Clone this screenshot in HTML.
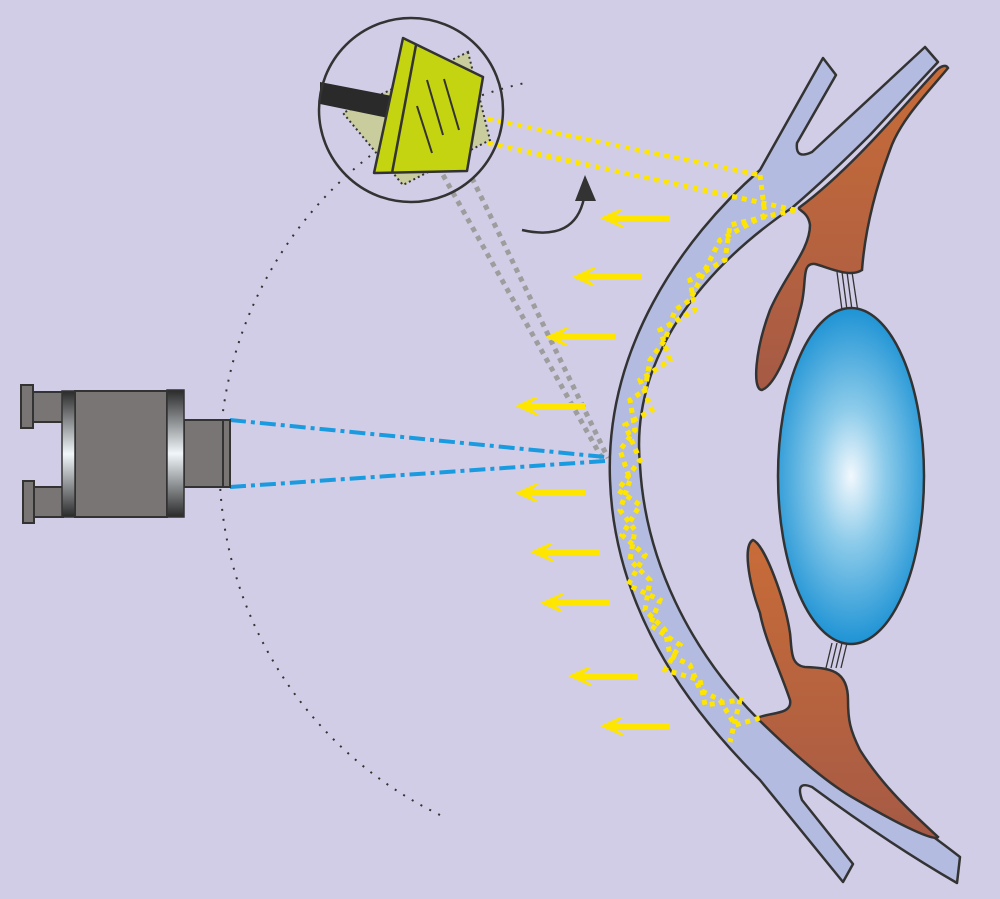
<!DOCTYPE html>
<html><head><meta charset="utf-8"><style>html,body{margin:0;padding:0;background:#d2cde6;}svg{display:block}</style></head><body>
<svg width="1000" height="899" viewBox="0 0 1000 899" xmlns="http://www.w3.org/2000/svg">
<defs>
<radialGradient id="lens" cx="851" cy="476" r="170" gradientUnits="userSpaceOnUse" gradientTransform="translate(851 476) scale(0.5 1) translate(-851 -476)">
<stop offset="0" stop-color="#f2f8fd"/><stop offset="0.4" stop-color="#8ccbea"/><stop offset="1" stop-color="#1c92d4"/></radialGradient>
<linearGradient id="brown" x1="0" y1="0" x2="0" y2="1"><stop offset="0" stop-color="#c86c38"/><stop offset="1" stop-color="#a65a45"/></linearGradient>
<linearGradient id="ring" x1="0" y1="0" x2="0" y2="1"><stop offset="0" stop-color="#2a2a2a"/><stop offset="0.5" stop-color="#f0f6fa"/><stop offset="1" stop-color="#2a2a2a"/></linearGradient>
</defs>
<rect width="1000" height="899" fill="#d2cde6"/>
<!-- dotted arc -->
<path d="M440,815 A390,390 0 0 1 525,83" fill="none" stroke="#333" stroke-width="2" stroke-dasharray="2 8"/>
<!-- gray dotted -->
<line x1="443" y1="175" x2="603" y2="460" stroke="#9d9d9d" stroke-width="5" stroke-dasharray="5 5"/>
<line x1="472" y1="178" x2="608" y2="458" stroke="#9d9d9d" stroke-width="5" stroke-dasharray="5 5"/>
<!-- cornea/sclera -->
<path d="M823,58 L836,75 L797,143 Q795,160 812,152 L925,47 L938,62 L870,135 Q830,175 793,207 C700,270 630,360 640,465 C645,560 690,650 757,718 C820,760 900,810 960,857 L957,883 C900,850 850,815 812,787 Q795,780 802,800 L853,864 L843,882 L760,780 C700,720 615,620 610,480 C605,350 680,240 760,170 Z" fill="#b3bbe0" stroke="#333" stroke-width="2.5" stroke-linejoin="round"/>
<!-- zonules -->
<g stroke="#333" stroke-width="1.3"><line x1="837" y1="272" x2="842" y2="310"/><line x1="842" y1="272" x2="847" y2="310"/><line x1="847" y1="272" x2="852" y2="310"/><line x1="852" y1="272" x2="858" y2="312"/>
<line x1="832" y1="643" x2="826" y2="668"/><line x1="837" y1="643" x2="831" y2="668"/><line x1="842" y1="643" x2="836" y2="668"/><line x1="847" y1="643" x2="841" y2="668"/></g>
<!-- lens -->
<ellipse cx="851" cy="476" rx="73" ry="168" fill="url(#lens)" stroke="#333" stroke-width="2.5"/>
<!-- upper iris -->
<path d="M948,68 C930,90 900,120 890,150 C875,190 865,230 862,270 C850,278 830,268 815,264 C800,262 808,285 800,310 C790,350 775,385 762,390 C752,390 755,350 770,310 C785,275 810,250 810,225 C808,210 795,210 800,207 C850,170 900,110 935,72 C940,66 946,64 948,68 Z" fill="url(#brown)" stroke="#333" stroke-width="2.5"/>
<!-- lower iris -->
<path d="M753,540 C765,545 785,600 790,633 C792,650 790,665 805,667 C830,668 848,670 848,700 C848,720 850,730 860,750 C885,790 920,820 938,837 C935,842 900,825 857,800 C830,785 800,760 757,718 C770,712 793,715 790,700 C780,670 765,640 760,613 C748,580 743,545 753,540 Z" fill="url(#brown)" stroke="#333" stroke-width="2.5"/>
<!-- yellow beam -->
<g fill="none" stroke="#ffe600" stroke-width="5" stroke-dasharray="5 5">
<line x1="478" y1="117" x2="760" y2="175"/>
<line x1="478" y1="141" x2="795" y2="210"/>
<polyline points="760,175 765,215 720,240 705,270 690,300 675,310 665,340 650,360 645,390 630,400 635,430 620,450 630,480 620,510 635,530 630,560 650,580 645,610 665,630 670,655 690,665 700,690 720,700 735,725 760,718"/>
<polyline points="795,210 730,225 725,260 690,280 695,310 660,330 670,360 640,380 652,410 625,425 640,460 618,490 640,505 622,535 645,555 628,585 660,600 650,625 680,645 665,670 700,680 705,705 740,700 730,742"/>
</g>
<!-- blue lines -->
<g stroke="#1a9be0" stroke-width="4" stroke-dasharray="16 5 4 5">
<line x1="230" y1="420" x2="605" y2="457"/><line x1="230" y1="487" x2="605" y2="461"/></g>
<!-- camera -->
<g stroke="#333" stroke-width="2">
<rect x="21" y="385" width="12" height="43" fill="#7a7575"/>
<rect x="33" y="392" width="30" height="30" fill="#7a7575"/>
<rect x="23" y="481" width="11" height="42" fill="#7a7575"/>
<rect x="34" y="487" width="29" height="30" fill="#7a7575"/>
<rect x="184" y="420" width="39" height="67" fill="#7a7575"/>
<rect x="223" y="420" width="7" height="67" fill="#7a7575"/>
<rect x="75" y="391" width="92" height="126" fill="#7a7575"/>
</g>
<rect x="62" y="391" width="13" height="126" fill="url(#ring)" stroke="#333" stroke-width="1.5"/>
<rect x="167" y="390" width="17" height="127" fill="url(#ring)" stroke="#333" stroke-width="1.5"/>
<!-- magnifier -->
<polygon points="468,52 490,140 403,185 343,113" fill="#c9cc9c" stroke="#333" stroke-width="2" stroke-dasharray="2 3"/>
<polygon points="320,82 392,96 388,118 320,104" fill="#2a2a2a"/>
<polygon points="403,38 483,77 467,171 374,173" fill="#c5d411" stroke="#333" stroke-width="2.5" stroke-linejoin="round"/>
<line x1="416" y1="45" x2="392" y2="173" stroke="#333" stroke-width="2.5"/>
<g stroke="#333" stroke-width="2"><line x1="427" y1="80" x2="443" y2="135"/><line x1="444" y1="79" x2="459" y2="130"/><line x1="417" y1="106" x2="432" y2="153"/></g>
<circle cx="411" cy="110" r="92" fill="none" stroke="#333" stroke-width="2.5"/>
<!-- curved arrow -->
<path d="M522,230 Q575,242 584,198" fill="none" stroke="#333" stroke-width="2.5"/>
<polygon points="575,201 596,201 585,175" fill="#333"/>
<!-- yellow arrows -->
<g fill="#ffe600">
<g transform="translate(600,218)"><rect x="8" y="-3" width="62" height="6"/><polygon points="0,0 20,-9 24,-9 12,0 24,9 20,9"/></g>
<g transform="translate(572,277)"><rect x="8" y="-3" width="62" height="6"/><polygon points="0,0 20,-9 24,-9 12,0 24,9 20,9"/></g>
<g transform="translate(545,337)"><rect x="8" y="-3" width="62" height="6"/><polygon points="0,0 20,-9 24,-9 12,0 24,9 20,9"/></g>
<g transform="translate(515,406)"><rect x="8" y="-3" width="62" height="6"/><polygon points="0,0 20,-9 24,-9 12,0 24,9 20,9"/></g>
<g transform="translate(515,493)"><rect x="8" y="-3" width="62" height="6"/><polygon points="0,0 20,-9 24,-9 12,0 24,9 20,9"/></g>
<g transform="translate(530,552)"><rect x="8" y="-3" width="62" height="6"/><polygon points="0,0 20,-9 24,-9 12,0 24,9 20,9"/></g>
<g transform="translate(540,603)"><rect x="8" y="-3" width="62" height="6"/><polygon points="0,0 20,-9 24,-9 12,0 24,9 20,9"/></g>
<g transform="translate(568,676)"><rect x="8" y="-3" width="62" height="6"/><polygon points="0,0 20,-9 24,-9 12,0 24,9 20,9"/></g>
<g transform="translate(600,726)"><rect x="8" y="-3" width="62" height="6"/><polygon points="0,0 20,-9 24,-9 12,0 24,9 20,9"/></g>
</g>
</svg>
</body></html>
